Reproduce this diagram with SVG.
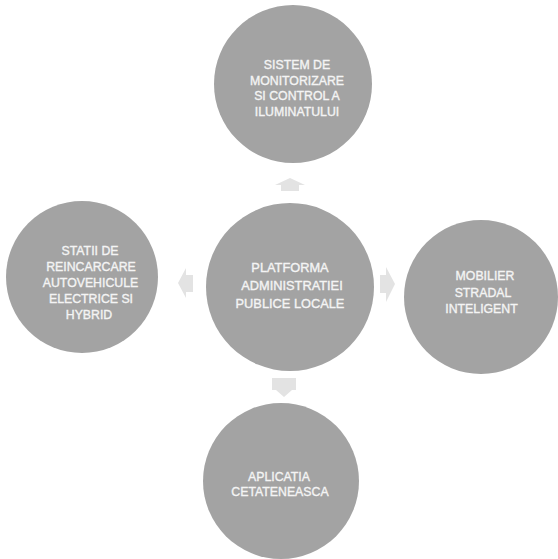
<svg xmlns="http://www.w3.org/2000/svg" width="558" height="559" viewBox="0 0 558 559">
  <style>
    .node { fill: #a3a3a3; }
    .lbl { font-family: "Liberation Sans", Arial, sans-serif; font-size: 12.3px; fill: #f4f4f4; stroke: #f4f4f4; stroke-width: 0.35px; text-anchor: middle; }
    .lbl-c { font-size: 12.8px; }
    .arrow { fill: #e3e3e3; }
  </style>
  <rect width="558" height="559" fill="#ffffff"/>
  <g id="connectors">
    <polygon class="arrow" points="290,178 305,185 299,185 299,191 281,191 281,185 275,185"/>
    <polygon class="arrow" points="272,378 296,378 296,390 292,390 284,397 276,390 272,390"/>
    <polygon class="arrow" points="178,283 186,268 186,275 193,275 193,292 186,292 186,298"/>
    <polygon class="arrow" points="395,284 386,267 386,275 380,275 380,293 386,293 386,302"/>
  </g>
  <g id="node-top">
    <circle class="node" cx="293" cy="84" r="79"/>
    <text class="lbl" x="297" y="69">SISTEM DE</text>
    <text class="lbl" x="297" y="84.5">MONITORIZARE</text>
    <text class="lbl" x="297" y="100">SI CONTROL A</text>
    <text class="lbl" x="297" y="115.5">ILUMINATULUI</text>
  </g>
  <g id="node-center">
    <circle class="node" cx="290" cy="287" r="84"/>
    <text class="lbl lbl-c" x="290" y="272">PLATFORMA</text>
    <text class="lbl lbl-c" x="292" y="290">ADMINISTRATIEI</text>
    <text class="lbl lbl-c" x="290" y="308">PUBLICE LOCALE</text>
  </g>
  <g id="node-left">
    <circle class="node" cx="82" cy="277" r="76"/>
    <text class="lbl" x="90" y="255">STATII DE</text>
    <text class="lbl" x="91" y="270.5">REINCARCARE</text>
    <text class="lbl" x="90.5" y="287">AUTOVEHICULE</text>
    <text class="lbl" x="91" y="303">ELECTRICE SI</text>
    <text class="lbl" x="89" y="319">HYBRID</text>
  </g>
  <g id="node-right">
    <circle class="node" cx="481" cy="297" r="77"/>
    <text class="lbl" x="485" y="280">MOBILIER</text>
    <text class="lbl" x="483" y="297">STRADAL</text>
    <text class="lbl" x="481.5" y="313">INTELIGENT</text>
  </g>
  <g id="node-bottom">
    <circle class="node" cx="281" cy="481" r="78"/>
    <text class="lbl" x="279" y="481">APLICATIA</text>
    <text class="lbl" x="280" y="496">CETATENEASCA</text>
  </g>
</svg>
